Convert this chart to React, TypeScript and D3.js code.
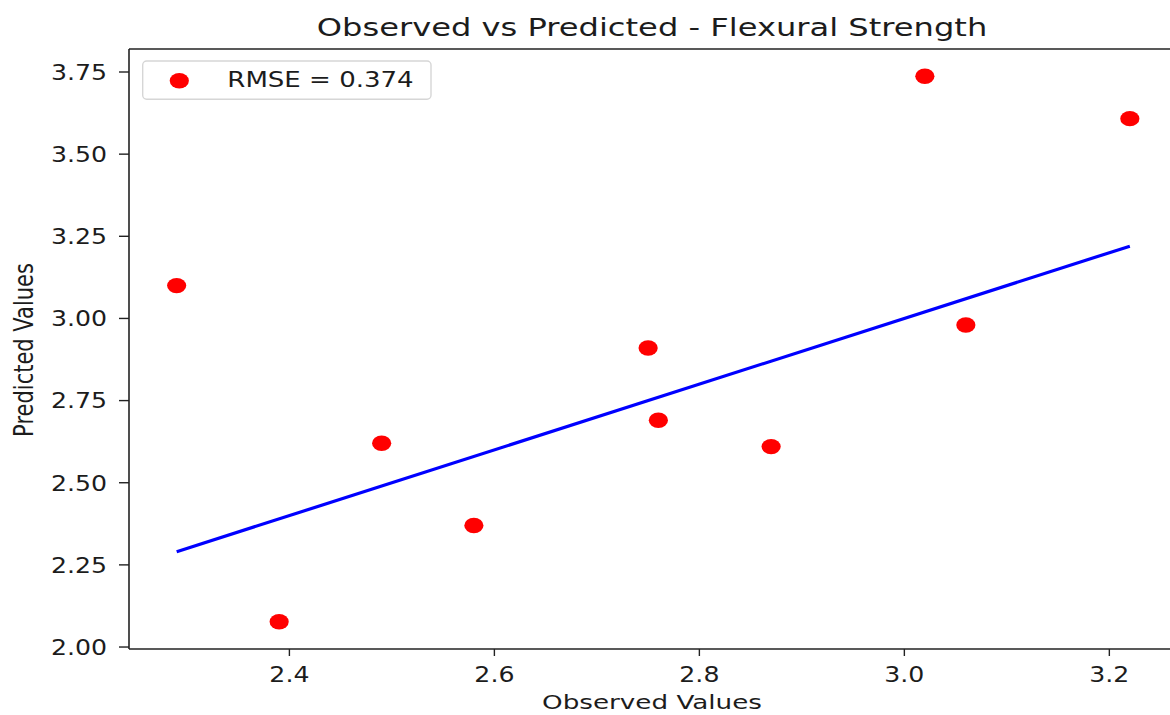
import React from 'react';
import * as d3 from 'd3';

const observed = [2.29, 2.39, 2.49, 2.58, 2.75, 2.76, 2.87, 3.02, 3.06, 3.22];
const predicted = [3.10, 2.077, 2.62, 2.37, 2.91, 2.69, 2.61, 3.737, 2.98, 3.608];
const xTicks = [2.4, 2.6, 2.8, 3.0, 3.2];
const yTicks = [2.0, 2.25, 2.5, 2.75, 3.0, 3.25, 3.5, 3.75];
const titleText = 'Observed vs Predicted - Flexural Strength';
const xLabelText = 'Observed Values';
const yLabelText = 'Predicted Values';
const legendText = 'RMSE = 0.374';

const W = 1170;
const H = 715;
const left = 129;
const right = 1177.5;
const top = 49;
const bottom = 649;
const SX = 1.24; // horizontal stretch of the reference image
const FONT = '"DejaVu Sans", sans-serif';
const TXT = '#1c1c1c';

function padded(vals: number[]): [number, number] {
  const [a, b] = d3.extent(vals) as [number, number];
  const m = (b - a) * 0.05;
  return [a - m, b + m];
}

export default function App() {
  const x = d3.scaleLinear().domain(padded(observed)).range([left, right]);
  const y = d3.scaleLinear().domain(padded(predicted)).range([bottom, top]);
  const fx = d3.format('.1f');
  const fy = d3.format('.2f');
  const pts = observed.map((o, i) => ({ o, p: predicted[i] }));
  const [mn, mx] = d3.extent(observed) as [number, number];
  const linePath = d3.line<number>().x((d) => x(d)).y((d) => y(d))([mn, mx]) || '';

  return (
    <svg
      width={W}
      height={H}
      style={{ position: 'absolute', left: 0, top: 0, background: '#fff' }}
      fontFamily={FONT}
    >
      <rect x={0} y={0} width={W} height={H} fill="#fff" />
      {/* identity line */}
      <path d={linePath} stroke="#0000ff" strokeWidth={3.2} fill="none" strokeLinecap="butt" />
      {/* points */}
      {pts.map((d, i) => (
        <ellipse key={i} cx={x(d.o)} cy={y(d.p)} rx={9.6} ry={7.7} fill="#ff0000" />
      ))}
      {/* spines */}
      <line x1={left} x2={left} y1={top} y2={bottom} stroke="#222" strokeWidth={1.6} />
      <line x1={left} x2={right} y1={bottom} y2={bottom} stroke="#222" strokeWidth={1.6} />
      <line x1={left} x2={right} y1={top} y2={top} stroke="#222" strokeWidth={1.6} />
      <line x1={right} x2={right} y1={top} y2={bottom} stroke="#222" strokeWidth={1.6} />
      {/* x ticks */}
      {xTicks.map((t) => (
        <g key={t}>
          <line x1={x(t)} x2={x(t)} y1={bottom} y2={bottom + 7} stroke="#222" strokeWidth={1.4} />
          <text
            transform={`translate(${x(t)},${bottom + 33}) scale(1.2,1)`}
            textAnchor="middle"
            fontSize={21}
            fill={TXT}
          >
            {fx(t)}
          </text>
        </g>
      ))}
      {/* y ticks */}
      {yTicks.map((t) => (
        <g key={t}>
          <line x1={left - 10} x2={left} y1={y(t)} y2={y(t)} stroke="#222" strokeWidth={1.4} />
          <text
            transform={`translate(${left - 22},${y(t) + 7.8}) scale(1.2,1)`}
            textAnchor="end"
            fontSize={21}
            fill={TXT}
          >
            {fy(t)}
          </text>
        </g>
      ))}
      {/* title */}
      <text
        transform={`translate(652,36) scale(1.26,1)`}
        textAnchor="middle"
        fontSize={25.5}
        fill={TXT}
      >
        {titleText}
      </text>
      {/* x label */}
      <text
        transform={`translate(652,709) scale(1.31,1)`}
        textAnchor="middle"
        fontSize={20}
        fill={TXT}
      >
        {xLabelText}
      </text>
      {/* y label */}
      <text
        transform={`translate(33,350) scale(${SX},1) rotate(-90)`}
        textAnchor="middle"
        fontSize={21}
        fill={TXT}
      >
        {yLabelText}
      </text>
      {/* legend */}
      <rect x={142.7} y={61} width={288.3} height={38.3} rx={4} fill="#fff" fillOpacity={0.8} stroke="#d6d6d6" strokeWidth={1.4} />
      <ellipse cx={179.3} cy={80.7} rx={9.6} ry={7.7} fill="#ff0000" />
      <text transform={`translate(227.3,87) scale(${SX},1)`} fontSize={21} fill={TXT}>
        {legendText}
      </text>
    </svg>
  );
}
